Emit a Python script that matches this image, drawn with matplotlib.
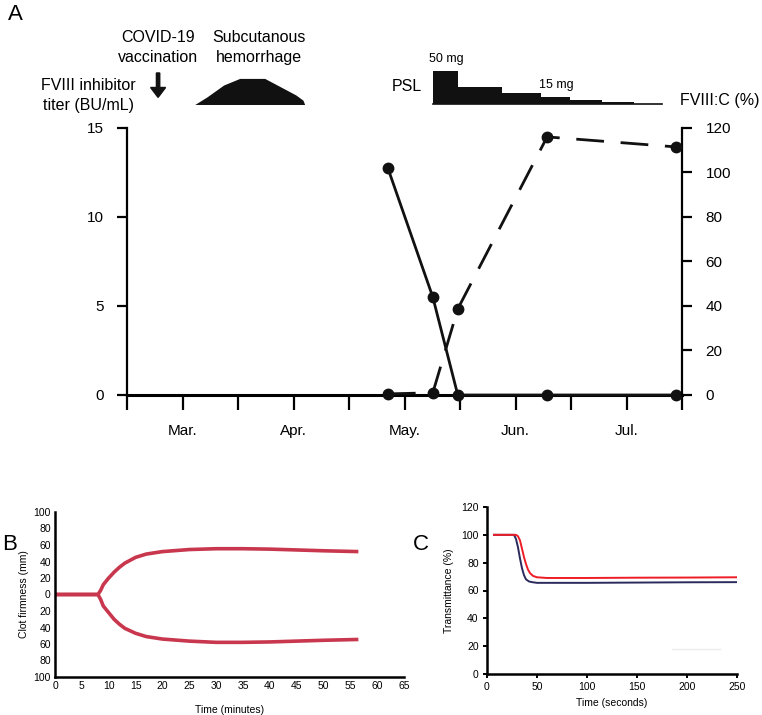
import matplotlib.pyplot as plt
from matplotlib.patches import Polygon, FancyArrow

plt.rcParams['font.family'] = ['Liberation Sans', 'DejaVu Sans']

W, H = 762, 715

# ---- panel A data (x in half-month units, 0 = mid Feb) ----
month_labels = ['Mar.', 'Apr.', 'May.', 'Jun.', 'Jul.']
month_pos = [1, 3, 5, 7, 9]
visit_x = [4.70, 5.51, 5.96, 7.57, 9.89]
titer = [12.75, 5.5, 0.0, 0.0, 0.0]          # BU/mL
fviii_x = [4.70, 5.51, 5.96, 7.57, 9.89]
fviii = [0.5, 1.0, 38.7, 116.0, 111.5]       # %

# PSL taper (step starts, doses)
psl_x = [5.51, 5.96, 6.76, 7.46, 7.98, 8.56, 9.14, 9.64]
psl_dose = [50, 25, 17, 10.5, 6, 3, 0, 0]

# hemorrhage schematic outline
hem_x = [1.23, 1.45, 1.75, 2.04, 2.49, 3.05, 3.18, 3.21]
hem_y = [-1.5, 10, 28, 38, 38, 13, 5, -1.5]
vacc_x = 0.56

# ---- panel B data (ROTEM-like trace) ----
b_time = [0, 8, 8.5, 9, 10, 11, 12, 13, 15, 17, 20, 25, 30, 35, 40, 45, 50, 56.5]
b_upper = [0, 0, 5, 12, 20, 27, 33, 38, 45, 49, 52, 54.5, 55.5, 55.5, 55, 54, 53, 52]
b_lower = [0, 0, -6, -14, -22, -30, -36, -41, -47, -51, -54, -56.5, -58, -58, -57.5, -56.5, -55.5, -54.5]

# ---- panel C data (transmittance waveform) ----
c_blue_t = [7, 25, 27, 29, 31, 33, 35, 37, 39, 42, 45, 50, 100, 150, 200, 250]
c_blue = [100, 100, 100, 97, 91, 83, 76, 71, 68, 66.5, 66, 65.5, 65.5, 65.7, 65.9, 66]
c_red_t = [7, 29, 31, 33, 35, 37, 39, 41, 43, 46, 50, 60, 100, 150, 200, 250]
c_red = [100, 100, 99, 96, 90, 84, 79, 75, 72.5, 70.5, 69.5, 69, 69, 69.2, 69.3, 69.5]


def box(l, t, r, b):
    return [l / W, 1 - b / H, (r - l) / W, (b - t) / H]


fig = plt.figure(figsize=(W / 100, H / 100), dpi=100)

# ================= Panel A =================
ax = fig.add_axes(box(127, 128, 682, 395))
ax2 = ax.twinx()
ax.set_xlim(0, 10)
ax.set_ylim(0, 15)
ax2.set_ylim(0, 120)

ax.plot(visit_x, titer, color='#111111', lw=2.0, marker='o', ms=7.5, clip_on=False, zorder=5)
ax2.plot(fviii_x, fviii, color='#111111', lw=2.0, marker='o', ms=7.5,
         dashes=(10, 6), clip_on=False, zorder=5)

for a in (ax, ax2):
    a.spines['top'].set_visible(False)
    for s in a.spines.values():
        s.set_linewidth(1.6)
ax.spines['right'].set_visible(False)
ax2.spines['left'].set_visible(False)
ax2.spines['bottom'].set_visible(False)
ax2.spines['right'].set_bounds(0, 120)
ax.spines['bottom'].set_linewidth(2.2)

ax.set_yticks([0, 5, 10, 15])
ax.tick_params(axis='y', length=7, width=1.6, labelsize=11, direction='out', pad=10)
ax2.set_yticks([0, 20, 40, 60, 80, 100, 120])
ax2.tick_params(axis='y', length=7, width=1.6, labelsize=11, direction='out', pad=10)
ax.set_xticks(range(0, 11))
ax.set_xticklabels(['' if i not in month_pos else month_labels[month_pos.index(i)]
                    for i in range(11)])
ax.tick_params(axis='x', length=11, width=1.6, labelsize=11, pad=10)

# annotation strip above panel A (shares x scale)
st = fig.add_axes(box(127, 30, 682, 110))
st.set_xlim(0, 10)
st.set_ylim(-9.1, 112.1)
st.axis('off')
xs, ys = [], []
for i in range(len(psl_x) - 1):
    xs += [psl_x[i], psl_x[i + 1]]
    ys += [psl_dose[i], psl_dose[i]]
st.fill_between(xs, 0, ys, color='#111111', lw=0)
st.plot([psl_x[0], psl_x[-1]], [0, 0], color='#111111', lw=1.2)
st.add_patch(Polygon(list(zip(hem_x, hem_y)), closed=True, color='#111111', lw=0))
st.add_patch(FancyArrow(vacc_x, 47, 0, -37, width=0.06, head_width=0.27,
                        head_length=15, length_includes_head=True, color='#111111'))
st.text(-0.7, 13, 'FVIII inhibitor\ntiter (BU/mL)', ha='center', va='center',
        fontsize=11.5, linespacing=1.45)
st.text(vacc_x, 86, 'COVID-19\nvaccination', ha='center', va='center',
        fontsize=11.5, linespacing=1.45)
st.text(2.38, 86, 'Subcutanous\nhemorrhage', ha='center', va='center',
        fontsize=11.5, linespacing=1.45)
st.text(5.05, 27, 'PSL', ha='center', va='center', fontsize=11.5)
st.text(5.75, 68, '50 mg', ha='center', va='center', fontsize=9)
st.text(7.73, 29, '15 mg', ha='center', va='center', fontsize=9)
st.text(9.96, 6, 'FVIII:C (%)', ha='left', va='center', fontsize=11.5)

fig.text(15 / W, 1 - 14 / H, 'A', fontsize=16, ha='center', va='center')

# ================= Panel B =================
bx = fig.add_axes(box(55, 512, 404, 677))
bx.plot(b_time, b_upper, color='#c8374d', lw=2.6, solid_capstyle='butt')
bx.plot(b_time, b_lower, color='#c8374d', lw=2.6, solid_capstyle='butt')
bx.set_xlim(0, 65)
bx.set_ylim(-100, 100)
bx.set_xticks(range(0, 70, 5))
bx.set_yticks(range(-100, 101, 20))
bx.set_yticklabels([str(abs(v)) for v in range(-100, 101, 20)])
bx.tick_params(length=0, labelsize=7.5, pad=3)
for s in ('top', 'right'):
    bx.spines[s].set_visible(False)
for s in ('left', 'bottom'):
    bx.spines[s].set_linewidth(1.8)
bx.set_xlabel('Time (minutes)', fontsize=7.5, labelpad=10)
bx.set_ylabel('Clot firmness (mm)', fontsize=7.5, labelpad=3)
fig.text(10 / W, 1 - 545 / H, 'B', fontsize=16, ha='center', va='center')

# ================= Panel C =================
cx = fig.add_axes(box(487, 507, 737, 674))
cx.plot(c_blue_t, c_blue, color='#2b2a5c', lw=1.4)
cx.plot(c_red_t, c_red, color='#ee1c25', lw=1.4)
cx.plot([185, 233], [18, 18], color='#ececec', lw=1.0)
cx.set_xlim(0, 250)
cx.set_ylim(0, 120)
cx.set_xticks([0, 50, 100, 150, 200, 250])
cx.set_yticks([0, 20, 40, 60, 80, 100, 120])
cx.tick_params(length=3, width=1.4, labelsize=7.5, pad=3)
for s in ('top', 'right'):
    cx.spines[s].set_visible(False)
for s in ('left', 'bottom'):
    cx.spines[s].set_linewidth(1.8)
cx.set_xlabel('Time (seconds)', fontsize=7.5, labelpad=4)
cx.set_ylabel('Transmittance (%)', fontsize=7.5, labelpad=5)
fig.text(421 / W, 1 - 545 / H, 'C', fontsize=16, ha='center', va='center')

fig.savefig('out.png', dpi=100)
